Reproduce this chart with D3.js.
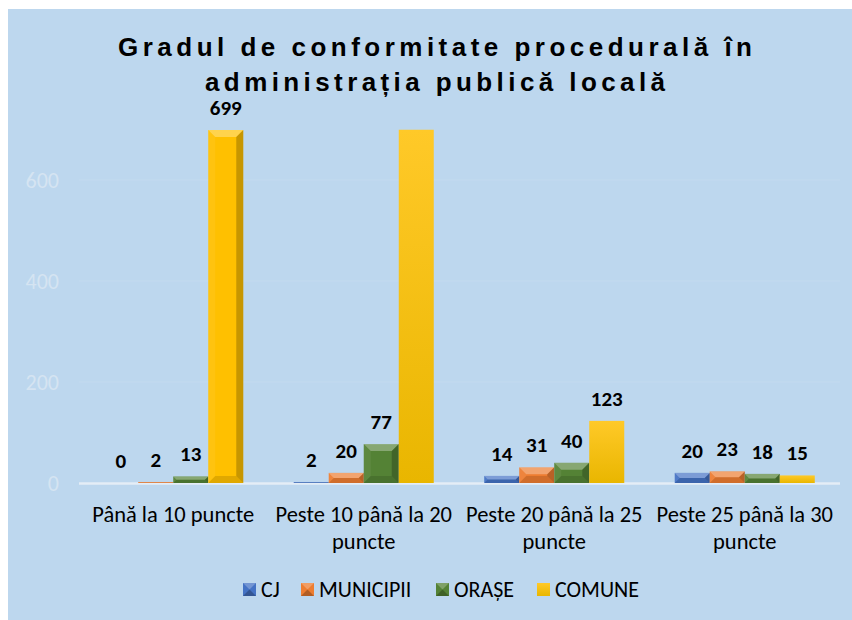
<!DOCTYPE html>
<html>
<head>
<meta charset="utf-8">
<script src="https://cdn.jsdelivr.net/npm/d3@7"></script>
<style>
  html, body { margin: 0; padding: 0; background: #ffffff; }
  svg { display: block; }
</style>
</head>
<body>
<script>
// chart data
var categories = [
    ["Până la 10 puncte"],
    ["Peste 10 până la 20", "puncte"],
    ["Peste 20 până la 25", "puncte"],
    ["Peste 25 până la 30", "puncte"]
];
var seriesNames = ["CJ", "MUNICIPII", "ORAȘE", "COMUNE"];
var seriesCJ = [0, 2, 14, 20];
var seriesMunicipii = [2, 20, 31, 23];
var seriesOrase = [13, 77, 40, 18];
var seriesComune = [699, 780, 123, 15]; // second value is cut off at the top of the axis
var yTicks = [0, 200, 400, 600];
var titleLines = ["Gradul de conformitate procedurală în", "administrația publică locală"];

var W = 852, H = 620;
var colors = ["#4472C4", "#ED7D31", "#548235", "#FFC000"];
var bgColor = "#BDD7EE";
var labelFont = "Carlito, Calibri, Lato, sans-serif";

var allSeries = [seriesCJ, seriesMunicipii, seriesOrase, seriesComune];

var svg = d3.select("body").append("svg")
    .attr("width", W)
    .attr("height", H);

// background panel
svg.append("rect")
    .attr("x", 8).attr("y", 9)
    .attr("width", W - 8).attr("height", H - 9)
    .attr("fill", bgColor);

var defs = svg.append("defs");
var grad = defs.append("linearGradient")
    .attr("id", "comuneGrad")
    .attr("x1", 0).attr("y1", 0).attr("x2", 0).attr("y2", 1);
grad.append("stop").attr("offset", "0%").attr("stop-color", "#FFC928");
grad.append("stop").attr("offset", "100%").attr("stop-color", "#E9B600");

var plotTop = 129.5, plotBottom = 483;
defs.append("clipPath").attr("id", "plotClip")
    .append("rect")
    .attr("x", 0).attr("y", plotTop)
    .attr("width", W).attr("height", plotBottom - plotTop + 2);

// scales
var x0 = d3.scaleBand()
    .domain(d3.range(categories.length))
    .range([78, 840])
    .paddingInner(0.265)
    .paddingOuter(0.1325);

var x1 = d3.scaleBand()
    .domain(d3.range(seriesNames.length))
    .range([0, x0.bandwidth()]);

var y = d3.scaleLinear()
    .domain([0, 700])
    .range([plotBottom, plotTop]);

// gridlines
svg.append("g")
    .selectAll("line")
    .data(yTicks.slice(1))
    .enter()
    .append("line")
    .attr("x1", 79).attr("x2", 840)
    .attr("y1", function (d) { return y(d); })
    .attr("y2", function (d) { return y(d); })
    .attr("stroke", "#C3DAEF")
    .attr("stroke-width", 1);

// y axis labels (very faint)
var yAxis = svg.append("g")
    .attr("transform", "translate(59,0)")
    .call(d3.axisLeft(y).tickValues(yTicks).tickSize(0).tickPadding(0));
yAxis.select(".domain").remove();
yAxis.selectAll("text")
    .attr("fill", "#D5E4F2")
    .attr("font-family", labelFont)
    .attr("font-size", "22px");

// baseline
svg.append("line")
    .attr("x1", 79).attr("x2", 840)
    .attr("y1", plotBottom + 0.5).attr("y2", plotBottom + 0.5)
    .attr("stroke", "#E4EDF6")
    .attr("stroke-width", 2.5);

// bars
var points = [];
categories.forEach(function (c, ci) {
    allSeries.forEach(function (s, si) {
        points.push({cat: ci, ser: si, value: s[ci],
            // bevelled look on every bar, except the flat COMUNE bars after the first group
            bevel: si < 3 || ci === 0});
    });
});

var barsG = svg.append("g").attr("clip-path", "url(#plotClip)");

points.forEach(function (d) {
    var bx = x0(d.cat) + x1(d.ser);
    var bw = x1.bandwidth();
    var top = Math.max(y(d.value), plotTop);
    var bh = plotBottom - top;
    var g = barsG.append("g");
    if (bh <= 0) return;
    g.append("rect")
        .attr("x", bx).attr("y", top)
        .attr("width", bw).attr("height", bh)
        .attr("fill", d.bevel ? colors[d.ser] : "url(#comuneGrad)");
    if (!d.bevel) return;
    var b = Math.min(7, bh / 2, bw / 2);
    var faces = [
        {pts: [[bx, top], [bx + bw, top], [bx + bw - b, top + b], [bx + b, top + b]], fill: "#ffffff", op: 0.3},
        {pts: [[bx, top], [bx + b, top + b], [bx + b, top + bh - b], [bx, top + bh]], fill: "#ffffff", op: 0.06},
        {pts: [[bx + bw, top], [bx + bw - b, top + b], [bx + bw - b, top + bh - b], [bx + bw, top + bh]], fill: "#000000", op: 0.22},
        {pts: [[bx, top + bh], [bx + b, top + bh - b], [bx + bw - b, top + bh - b], [bx + bw, top + bh]], fill: "#000000", op: 0.12}
    ];
    faces.forEach(function (f) {
        g.append("polygon")
            .attr("points", f.pts.map(function (p) { return p.join(","); }).join(" "))
            .attr("fill", f.fill)
            .attr("fill-opacity", f.op);
    });
});

// data labels (hidden when the value is off the axis)
svg.append("g")
    .selectAll("text")
    .data(points.filter(function (d) { return d.value <= y.domain()[1]; }))
    .enter()
    .append("text")
    .attr("x", function (d) { return x0(d.cat) + x1(d.ser) + x1.bandwidth() / 2; })
    .attr("y", function (d) { return y(d.value) - 15; })
    .attr("text-anchor", "middle")
    .attr("font-family", labelFont)
    .attr("font-weight", "bold")
    .attr("font-size", "21px")
    .attr("fill", "#000000")
    .text(function (d) { return d.value; });

// category labels
var catG = svg.append("g")
    .selectAll("text")
    .data(categories)
    .enter()
    .append("text")
    .attr("x", function (d, i) { return x0(i) + x0.bandwidth() / 2; })
    .attr("y", 522)
    .attr("text-anchor", "middle")
    .attr("font-family", labelFont)
    .attr("font-size", "22.5px")
    .attr("fill", "#000000");
catG.selectAll("tspan")
    .data(function (d) { return d; })
    .enter()
    .append("tspan")
    .attr("x", function () { return d3.select(this.parentNode).attr("x"); })
    .attr("dy", function (d, i) { return i === 0 ? 0 : 27; })
    .text(function (d) { return d; });

// title: narrow bold face with wide tracking
var titleWidths = [634, 460];
var title = svg.append("g")
    .selectAll("text")
    .data(titleLines)
    .enter()
    .append("text")
    .attr("x", 435)
    .attr("y", function (d, i) { return 56 + i * 35; })
    .attr("text-anchor", "middle")
    .attr("font-family", "'Liberation Sans Narrow', 'Arial Narrow', 'Liberation Sans', Arial, sans-serif")
    .attr("font-weight", "bold")
    .attr("font-size", "26px")
    .attr("fill", "#000000")
    .text(function (d) { return d; });
title.each(function (d, i) {
    var natural = this.getComputedTextLength();
    var ls = (titleWidths[i] - natural) / (d.length - 1);
    d3.select(this)
        .attr("letter-spacing", ls + "px")
        .attr("x", 435 + ls / 2);
});

// legend
var legendX = [243, 301, 436, 537];
var legend = svg.append("g")
    .selectAll("g")
    .data(seriesNames)
    .enter()
    .append("g")
    .attr("transform", function (d, i) { return "translate(" + legendX[i] + ",583)"; });
legend.append("rect")
    .attr("width", 13).attr("height", 13)
    .attr("fill", function (d, i) { return i === 3 ? "url(#comuneGrad)" : colors[i]; });
legend.filter(function (d, i) { return i < 3; })
    .append("polygon")
    .attr("points", "0,0 13,0 6.5,6.5")
    .attr("fill", "#ffffff").attr("fill-opacity", 0.25);
legend.filter(function (d, i) { return i < 3; })
    .append("polygon")
    .attr("points", "0,13 13,13 6.5,6.5")
    .attr("fill", "#000000").attr("fill-opacity", 0.25);
legend.append("text")
    .attr("x", 18)
    .attr("y", 14)
    .attr("font-family", labelFont)
    .attr("font-size", "22px")
    .attr("fill", "#000000")
    .text(function (d) { return d; });
</script>
</body>
</html>
